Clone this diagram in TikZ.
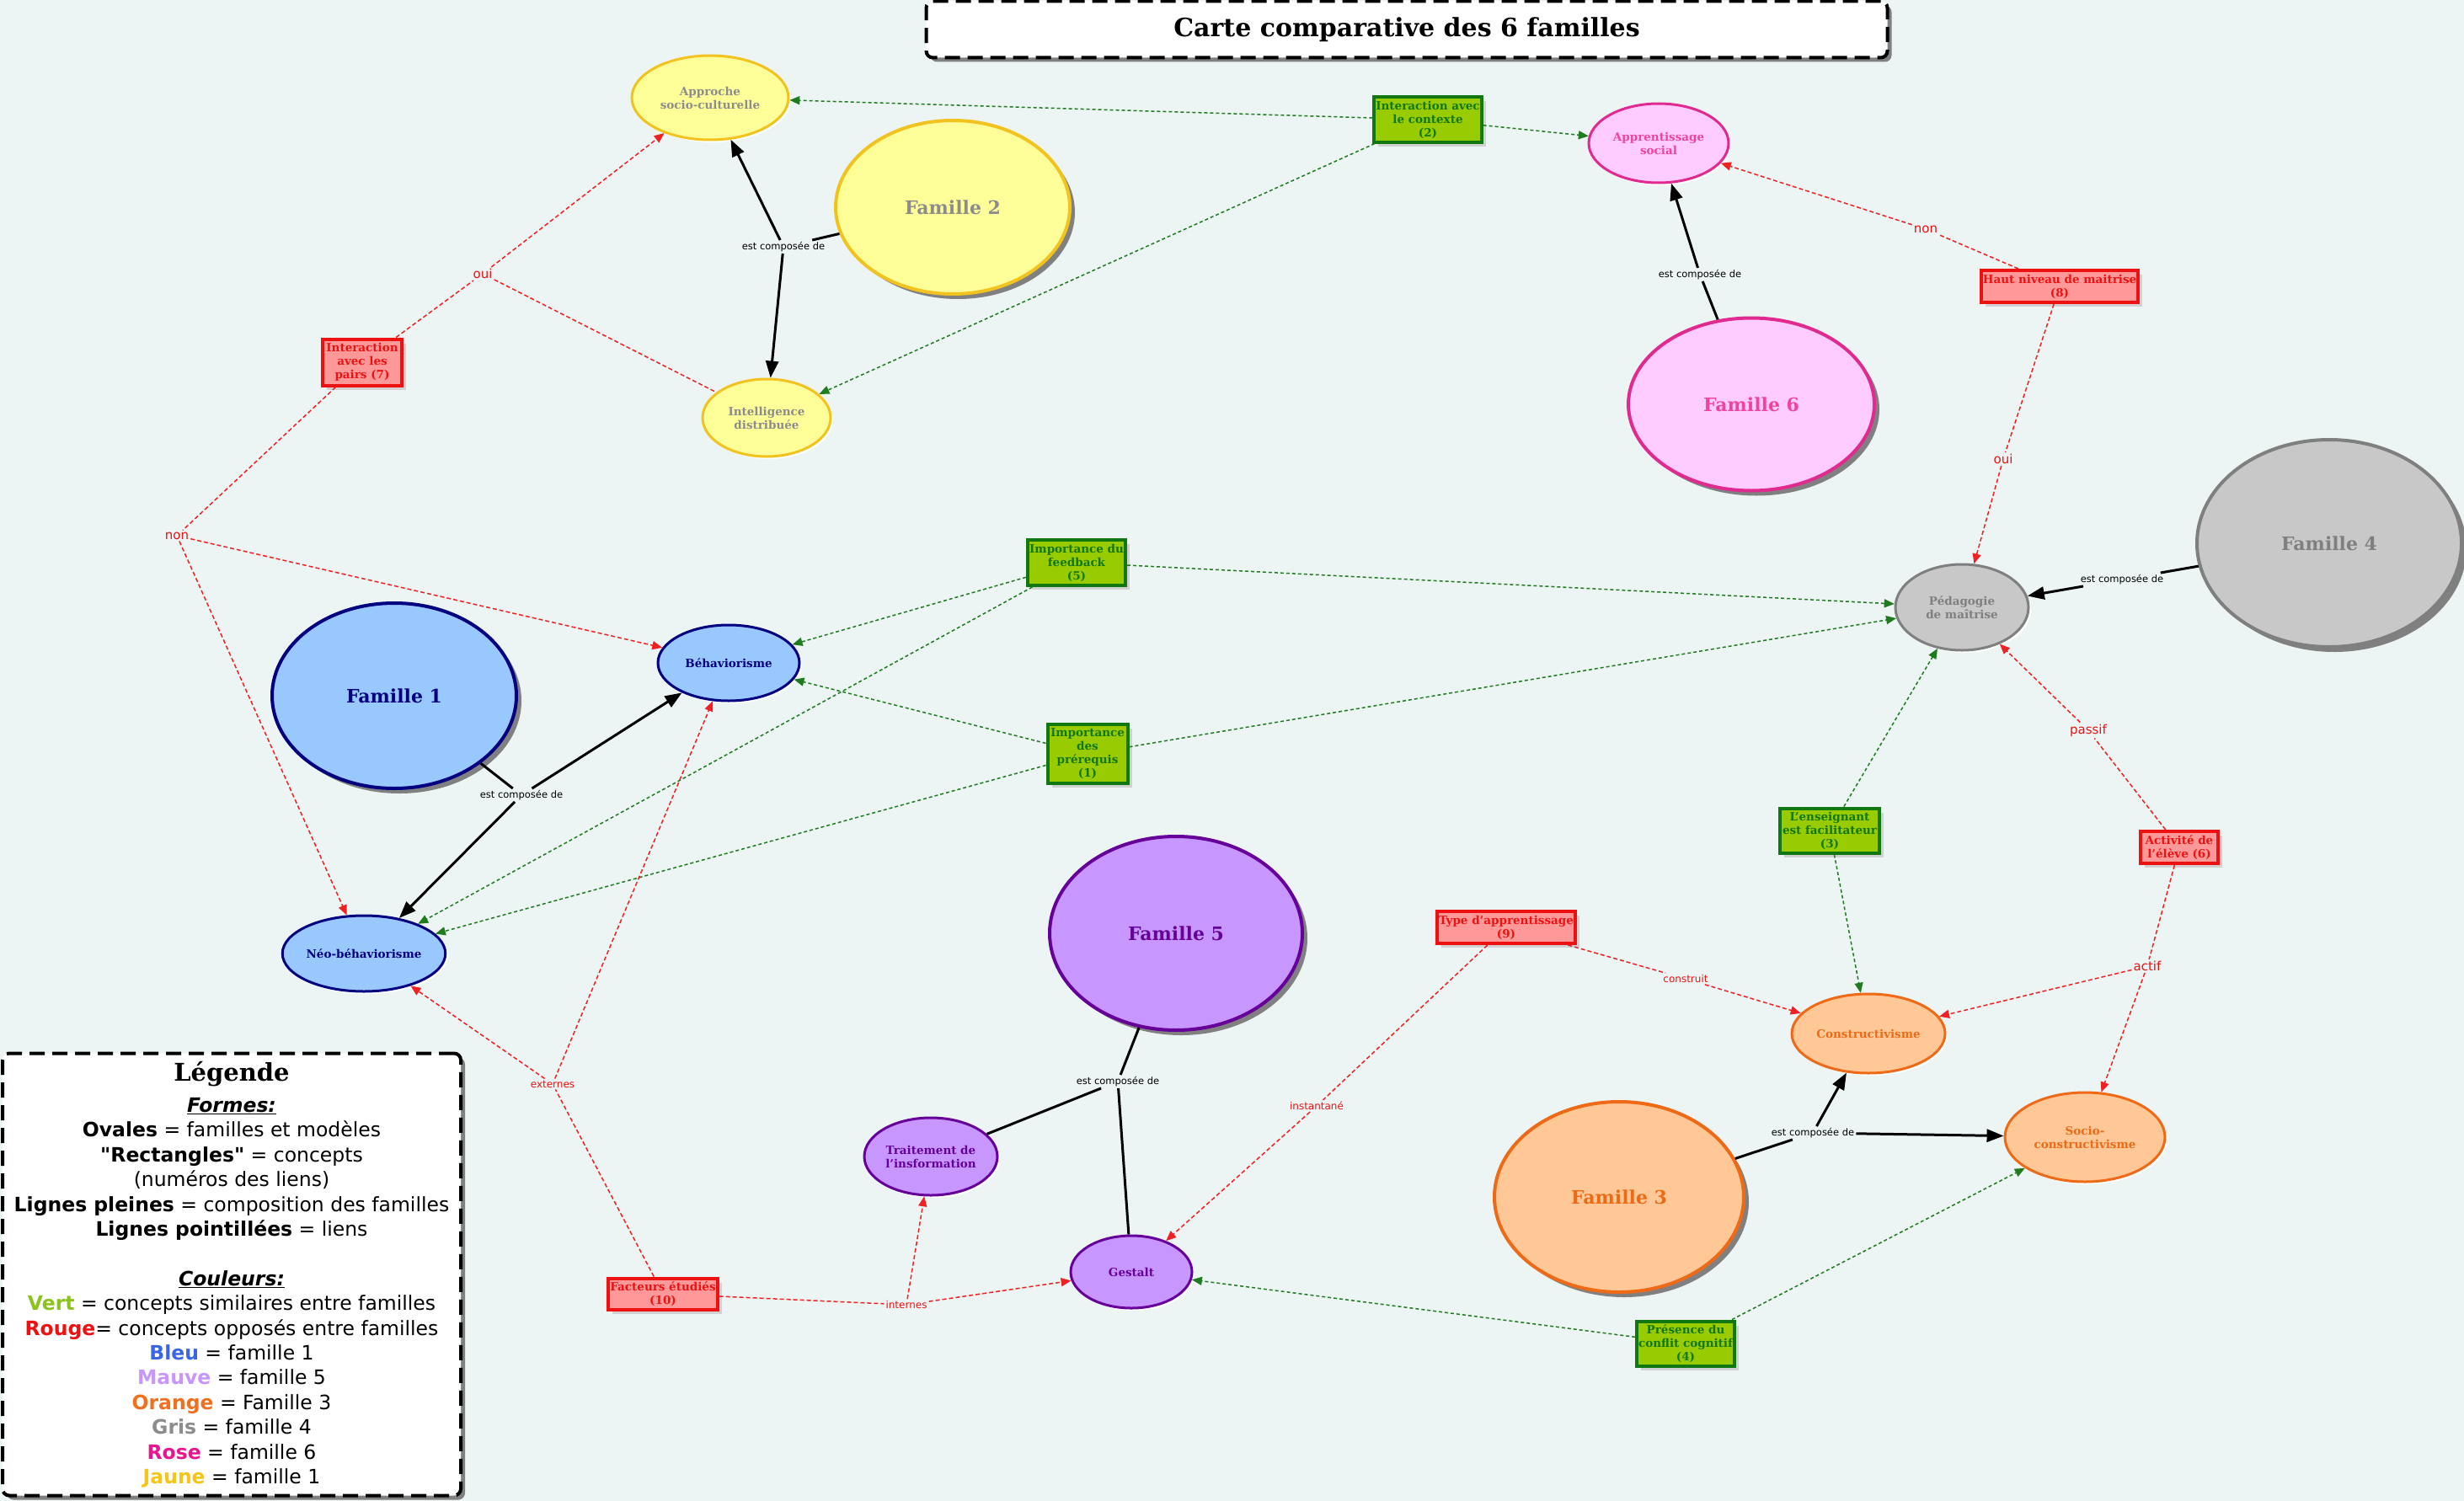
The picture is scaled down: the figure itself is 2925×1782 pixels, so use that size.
\documentclass[tikz,border=0pt]{standalone}
\usepackage{fontspec}
\setmainfont{DejaVu Serif}
\setsansfont{DejaVu Sans}[Ligatures=TeXOff]
\usepackage{xcolor}
\usepackage{tikz}
\usetikzlibrary{arrows.meta,shapes.geometric,shadows}
\definecolor{fond}{HTML}{ECF4F4}
\definecolor{jauneF}{HTML}{FFFF99}
\definecolor{jauneD}{HTML}{F2C21E}
\definecolor{grisT}{HTML}{8C8C8C}
\definecolor{roseF}{HTML}{FFCCFF}
\definecolor{roseD}{HTML}{E02A90}
\definecolor{roseT}{HTML}{F0439B}
\definecolor{grisF}{HTML}{C8C8C8}
\definecolor{grisD}{HTML}{7F7F7F}
\definecolor{bleuF}{HTML}{99C8FF}
\definecolor{bleuD}{HTML}{000080}
\definecolor{mauveF}{HTML}{C896FF}
\definecolor{mauveD}{HTML}{660099}
\definecolor{orangeF}{HTML}{FFC896}
\definecolor{orangeD}{HTML}{EE6A17}
\definecolor{vertF}{HTML}{99CC00}
\definecolor{vertD}{HTML}{117711}
\definecolor{rougeF}{HTML}{FF9999}
\definecolor{rougeD}{HTML}{EE1111}
\definecolor{lienV}{HTML}{1E7B1E}
\definecolor{lienR}{HTML}{EE2222}
\definecolor{vertL}{HTML}{8CC31E}
\definecolor{bleuL}{HTML}{3A66E6}
\definecolor{mauveL}{HTML}{C896FF}
\definecolor{orangeL}{HTML}{F07020}
\definecolor{roseL}{HTML}{E8168C}
\definecolor{jauneL}{HTML}{F5C518}

\begin{document}
\begin{tikzpicture}[x=1pt,y=-1pt,
  oval/.style={ellipse,draw,line width=3pt,inner sep=0pt,align=center,
               font=\bfseries\fontsize{13.5}{16}\selectfont,
               drop shadow={shadow xshift=3pt,shadow yshift=-3pt,fill=white,opacity=1}},
  famille/.style={oval,line width=4pt,font=\bfseries\fontsize{22}{26}\selectfont,
               drop shadow={shadow xshift=6pt,shadow yshift=-6pt,fill=black!50,opacity=1}},
  jaune/.style={fill=jauneF,draw=jauneD,text=grisT},
  rose/.style={fill=roseF,draw=roseD,text=roseT},
  gris/.style={fill=grisF,draw=grisD,text=grisD},
  bleu/.style={fill=bleuF,draw=bleuD,text=bleuD},
  mauve/.style={fill=mauveF,draw=mauveD,text=mauveD},
  orangee/.style={fill=orangeF,draw=orangeD,text=orangeD},
  concept/.style={rectangle,draw,line width=4pt,inner sep=2pt,align=center,
               font=\bfseries\fontsize{13.5}{16}\selectfont,
               drop shadow={shadow xshift=5pt,shadow yshift=-5pt,fill=black!18,opacity=1}},
  similaire/.style={concept,fill=vertF,draw=vertD,text=vertD},
  oppose/.style={concept,fill=rougeF,draw=rougeD,text=rougeD},
  phrase/.style={font=\sffamily\fontsize{11.5}{13}\selectfont,inner sep=2pt},
  reponse/.style={font=\sffamily\fontsize{15}{17}\selectfont,text=rougeD,inner sep=2pt},
  petite/.style={reponse,font=\sffamily\fontsize{12}{14}\selectfont},
  encadre/.style={draw,fill=white,line width=4pt,rounded corners=8pt,
               dash pattern=on 18pt off 9pt,
               drop shadow={shadow xshift=5pt,shadow yshift=-5pt,fill=black!50,opacity=1}},
  compflow/.style={line width=3pt},
  comparrow/.style={compflow,-{Triangle[length=20pt,width=15pt]}},
  simflow/.style={draw=lienV,line width=1.5pt,dash pattern=on 4pt off 3pt},
  oppflow/.style={draw=lienR,line width=1.5pt,dash pattern=on 5pt off 3pt},
  >={Triangle[length=12pt,width=10pt]}]

\useasboundingbox (0,0) rectangle (2925,1782);
\fill[fond] (0,0) rectangle (2925,1782);

\node[encadre,minimum width=1141pt,minimum height=67pt,
      font=\bfseries\fontsize{30}{34}\selectfont] (titre) at (1670,35)
      {Carte comparative des 6 familles};

\node[famille,jaune,minimum width=278pt,minimum height=206pt] (fam2) at (1131,246) {Famille 2};
\node[famille,rose,minimum width=292pt,minimum height=205pt] (fam6) at (2079,480) {Famille 6};
\node[famille,gris,minimum width=314pt,minimum height=246pt] (fam4) at (2765,645) {Famille 4};
\node[famille,bleu,minimum width=290pt,minimum height=220pt] (fam1) at (468,826) {Famille 1};
\node[famille,mauve,minimum width=300pt,minimum height=230pt] (fam5) at (1396,1108) {Famille 5};
\node[famille,orangee,minimum width=296pt,minimum height=226pt] (fam3) at (1922,1421) {Famille 3};

\node[oval,jaune,minimum width=186pt,minimum height=100pt] (approche) at (843,116) {Approche\\socio-culturelle};
\node[oval,jaune,minimum width=152pt,minimum height=92pt] (intel) at (910,496) {Intelligence\\distribuée};
\node[oval,rose,minimum width=166pt,minimum height=94pt] (apprsoc) at (1969,170) {Apprentissage\\social};
\node[oval,gris,minimum width=158pt,minimum height=102pt] (peda) at (2329,721) {Pédagogie\\de maîtrise};
\node[oval,bleu,minimum width=168pt,minimum height=90pt] (behav) at (865,787) {Béhaviorisme};
\node[oval,bleu,minimum width=184pt,minimum height=90pt] (neo) at (432,1132) {Néo-béhaviorisme};
\node[oval,mauve,minimum width=158pt,minimum height=92pt] (traitement) at (1105,1373) {Traitement de\\l'insformation};
\node[oval,mauve,minimum width=144pt,minimum height=86pt] (gestalt) at (1343,1510) {Gestalt};
\node[oval,orangee,minimum width=182pt,minimum height=94pt] (constr) at (2218,1227) {Constructivisme};
\node[oval,orangee,minimum width=190pt,minimum height=106pt] (socioconstr) at (2475,1350) {Socio-\\constructivisme};

\node[similaire,minimum width=124pt,minimum height=53pt] (ctx) at (1695,142) {Interaction avec\\le contexte\\(2)};
\node[similaire,minimum width=116pt,minimum height=54pt] (feedback) at (1278,668) {Importance du\\feedback\\(5)};
\node[similaire,minimum width=95pt,minimum height=70pt] (prereq) at (1291,895) {Importance\\des\\prérequis\\(1)};
\node[similaire,minimum width=118pt,minimum height=53pt] (ens) at (2172,986) {L'enseignant\\est facilitateur\\(3)};
\node[similaire,minimum width=115pt,minimum height=53pt] (conflit) at (2001,1595) {Présence du\\conflit cognitif\\(4)};
\node[oppose,minimum width=178pt,minimum height=38pt] (haut) at (2445,340) {Haut niveau de maitrise\\(8)};
\node[oppose,minimum width=94pt,minimum height=55pt] (pairs) at (430,430) {Interaction\\avec les\\pairs (7)};
\node[oppose,minimum width=92pt,minimum height=38pt] (activ) at (2587,1006) {Activité de\\l'élève (6)};
\node[oppose,minimum width=160pt,minimum height=38pt] (type) at (1788,1101) {Type d'apprentissage\\(9)};
\node[oppose,minimum width=127pt,minimum height=37pt] (facteurs) at (787,1536) {Facteurs étudiés\\(10)};

\node[phrase] (c2) at (930,293) {est composée de};
\node[phrase] (c6) at (2018,326) {est composée de};
\node[phrase] (c4) at (2519,688) {est composée de};
\node[phrase] (c1) at (619,944) {est composée de};
\node[phrase] (c5) at (1327,1284) {est composée de};
\node[phrase] (c3) at (2152,1345) {est composée de};

\node[reponse] (oui7) at (573,325) {oui};
\node[reponse] (non7) at (210,636) {non};
\node[reponse] (non8) at (2286,272) {non};
\node[reponse] (oui8) at (2378,545) {oui};
\node[reponse] (passif) at (2479,867) {passif};
\node[reponse] (actif) at (2549,1147) {actif};
\node[petite] (construit) at (2001,1162) {construit};
\node[petite] (instantane) at (1563,1313) {instantané};
\node[petite] (externes) at (656,1287) {externes};
\node[petite] (internes) at (1076,1549) {internes};

\foreach \f/\c in {fam2/c2,fam6/c6,fam4/c4,fam1/c1,fam5/c5,fam3/c3}
  \draw[compflow] (\f) -- (\c);
\foreach \c/\m in {c2/approche,c2/intel,c6/apprsoc,c4/peda,c1/behav,c1/neo,c3/constr,c3/socioconstr}
  \draw[comparrow] (\c) -- (\m);
\foreach \m in {traitement,gestalt}
  \draw[compflow] (c5) -- (\m);

\foreach \s/\t in {ctx/approche,ctx/apprsoc,ctx/intel,feedback/behav,feedback/neo,feedback/peda,
                   prereq/behav,prereq/neo,prereq/peda,ens/peda,ens/constr,conflit/gestalt,conflit/socioconstr}
  \draw[simflow,->] (\s) -- (\t);

\foreach \s/\t in {pairs/oui7,pairs/non7,oui7/intel,haut/non8,haut/oui8,activ/passif,activ/actif,
                   type/construit,type/instantane,facteurs/externes,facteurs/internes}
  \draw[oppflow] (\s) -- (\t);
\foreach \s/\t in {oui7/approche,non7/behav,non7/neo,non8/apprsoc,oui8/peda,passif/peda,actif/constr,
                   actif/socioconstr,construit/constr,instantane/gestalt,externes/neo,externes/behav,
                   internes/traitement,internes/gestalt}
  \draw[oppflow,->] (\s) -- (\t);

\node[encadre,minimum width=544pt,minimum height=525pt,align=center,
      font=\sffamily\fontsize{23.5}{29.4}\selectfont] (legende) at (275,1513) {%
  {\rmfamily\bfseries\fontsize{29}{32}\selectfont Légende}\\[8pt]
  \textbf{\textit{\underline{Formes:}}}\\
  \textbf{Ovales} = familles et modèles\\
  \textbf{"Rectangles"} = concepts\\
  (numéros des liens)\\
  \textbf{Lignes pleines} = composition des familles\\
  \textbf{Lignes pointillées} = liens\\[29.4pt]
  \textbf{\textit{\underline{Couleurs:}}}\\
  \textcolor{vertL}{\textbf{Vert}} = concepts similaires entre familles\\
  \textcolor{rougeD}{\textbf{Rouge}}= concepts opposés entre familles\\
  \textcolor{bleuL}{\textbf{Bleu}} = famille 1\\
  \textcolor{mauveL}{\textbf{Mauve}} = famille 5\\
  \textcolor{orangeL}{\textbf{Orange}} = Famille 3\\
  \textcolor{grisT}{\textbf{Gris}} = famille 4\\
  \textcolor{roseL}{\textbf{Rose}} = famille 6\\
  \textcolor{jauneL}{\textbf{Jaune}} = famille 1};
\end{tikzpicture}
\end{document}
